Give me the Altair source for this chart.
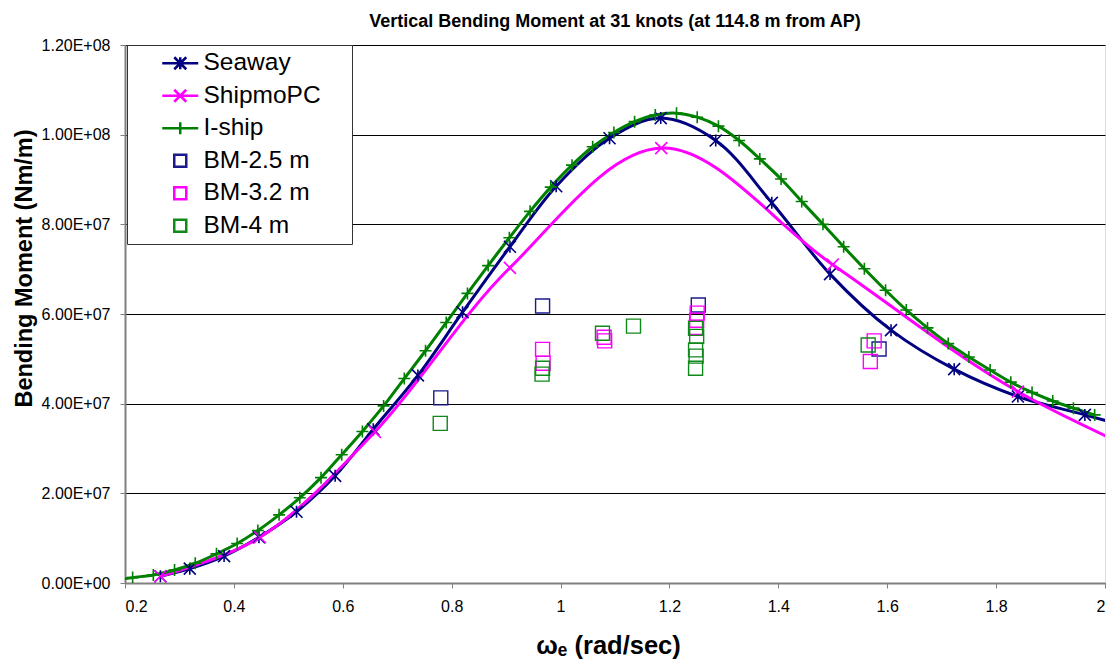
import altair as alt
import pandas as pd

SERIES = ["Seaway", "ShipmoPC", "I-ship", "BM-2.5 m", "BM-3.2 m", "BM-4 m"]
COLORS = ["#000080", "#FF00FF", "#008000", "#1A1A8C", "#FF00FF", "#11881A"]
CURVES = ["Seaway", "ShipmoPC", "I-ship"]
MARKER_PATHS = [
    "M-1,-1L1,1M-1,1L1,-1M0,-1L0,1",
    "M-1,-1L1,1M-1,1L1,-1",
    "M-1,0L1,0M0,-1L0,1",
]
LEGEND_PATHS = [
    "M-3,0L3,0M-1,-1L1,1M-1,1L1,-1M0,-1L0,1",
    "M-3,0L3,0M-1,-1L1,1M-1,1L1,-1",
    "M-3,0L3,0M0,-1L0,1",
    "square", "square", "square",
]
LEGEND_SIZES = [144, 144, 144, 210, 210, 210]
LEGEND_WIDTHS = [2.5, 2.5, 2.5, 1.4, 1.4, 1.4]

# values in millions of Nm/m
seaway_w = [0.265, 0.319, 0.382, 0.446, 0.515, 0.586, 0.656, 0.738, 0.820, 0.907, 0.992,
            1.090, 1.184, 1.285, 1.388, 1.495, 1.607, 1.723, 1.840, 1.963, 2.090]
seaway_v = [1.5, 3.2, 6.0, 10.2, 15.9, 23.9, 34.3, 46.3, 60.4, 75.0, 88.5,
            99.2, 103.7, 98.7, 84.8, 68.9, 56.4, 47.7, 41.6, 37.5, 33.3]

shipmo_w = [0.265, 0.448, 0.659, 0.907, 1.185, 1.500, 1.840, 2.210]
shipmo_v = [1.5, 10.2, 33.7, 70.3, 97.0, 71.0, 42.7, 21.5]

iship_w = [0.176, 0.214, 0.252, 0.291, 0.329, 0.368, 0.406, 0.444, 0.483, 0.521, 0.560,
           0.598, 0.636, 0.675, 0.713, 0.752, 0.790, 0.829, 0.867, 0.906, 0.944, 0.982,
           1.021, 1.059, 1.098, 1.136, 1.174, 1.213, 1.251, 1.290, 1.328, 1.366, 1.405,
           1.443, 1.482, 1.520, 1.558, 1.597, 1.635, 1.674, 1.712, 1.750, 1.789, 1.827,
           1.866, 1.904, 1.942, 1.981]
iship_v = [0.5, 1.2, 1.8, 2.9, 4.4, 6.5, 8.8, 11.7, 15.2, 19.0, 23.5,
           28.6, 33.8, 39.5, 45.6, 51.8, 58.1, 64.6, 70.8, 77.0, 82.9, 88.3,
           93.2, 97.3, 100.5, 102.9, 104.4, 104.8, 103.9, 101.9, 98.7, 94.6, 90.1,
           85.1, 80.0, 75.0, 70.1, 65.3, 60.9, 56.9, 53.4, 50.4, 47.5, 44.8,
           42.5, 40.6, 39.0, 37.5]

bm25_w = [0.780, 0.967, 1.253, 1.585]
bm25_v = [41.3, 61.8, 62.0, 52.2]

bm32_w = [0.967, 0.968, 1.080, 1.081, 1.251, 1.250, 1.249, 1.576, 1.569]
bm32_v = [52.1, 49.0, 54.8, 54.0, 60.2, 58.6, 57.0, 54.0, 49.4]

bm4_w = [0.779, 0.967, 0.966, 1.077, 1.134, 1.248, 1.250, 1.248, 1.249, 1.248, 1.565]
bm4_v = [35.6, 47.9, 46.6, 55.7, 57.3, 56.8, 55.0, 52.0, 50.6, 47.9, 53.1]

x_ticks = [0.2, 0.4, 0.6, 0.8, 1.0, 1.2, 1.4, 1.6, 1.8, 2.0]
y_ticks = [0, 2e7, 4e7, 6e7, 8e7, 1e8, 1.2e8]


def frame(name, ws, vs):
    return pd.DataFrame({"series": name, "w": ws, "v": [v * 1e6 for v in vs]})


curves = pd.concat([frame("Seaway", seaway_w, seaway_v),
                    frame("ShipmoPC", shipmo_w, shipmo_v),
                    frame("I-ship", iship_w, iship_v)], ignore_index=True)
squares = pd.concat([frame("BM-2.5 m", bm25_w, bm25_v),
                     frame("BM-3.2 m", bm32_w, bm32_v),
                     frame("BM-4 m", bm4_w, bm4_v)], ignore_index=True)

FONT = "Liberation Sans"

exp_expr = "floor(log(datum.value) / LN10 + 1e-9)"
y_label_expr = (
    "datum.value == 0 ? '0.00E+00' : format(datum.value / pow(10, " + exp_expr + "), '.2f') + 'E+' + ("
    + exp_expr + " < 10 ? '0' : '') + " + exp_expr
)

x_enc = alt.X(
    "w:Q",
    scale=alt.Scale(domain=[0.2, 2.0], nice=False, zero=False),
    axis=alt.Axis(
        values=x_ticks, format="~g", grid=False, tickSize=5, tickColor="#808080",
        domainColor="#808080", domainWidth=2, labelFontSize=16, labelFont=FONT,
        labelColor="black", labelPadding=10, title="ωₑ (rad/sec)", titleFont=FONT,
        titleFontSize=25.5, titleFontWeight="bold", titleColor="black",
        titleX=483, titleY=70, titleBaseline="alphabetic",
    ),
)
y_enc = alt.Y(
    "v:Q",
    scale=alt.Scale(domain=[0, 1.2e8], nice=False),
    axis=alt.Axis(
        values=y_ticks, labelExpr=y_label_expr, grid=True, gridColor="black", gridWidth=1,
        tickSize=5, tickColor="#808080", domainColor="#808080", domainWidth=2,
        labelFontSize=16, labelFont=FONT, labelColor="black", labelPadding=10,
        title="Bending Moment (Nm/m)", titleFont=FONT, titleFontSize=23.5,
        titleFontWeight="bold", titleColor="black", titleX=-89, titleY=223,
    ),
)

lines = alt.Chart(curves).mark_line(
    interpolate="catmull-rom", strokeWidth=3, clip=True
).encode(
    x=x_enc, y=y_enc,
    stroke=alt.Stroke("series:N", scale=alt.Scale(domain=SERIES, range=COLORS), legend=None),
    detail="series:N",
)

markers = alt.Chart(curves).mark_point(
    filled=False, size=144, strokeWidth=1.6, opacity=1, clip=True
).encode(
    x=x_enc, y=y_enc,
    color=alt.Color("series:N", scale=alt.Scale(domain=SERIES, range=COLORS), legend=None),
    shape=alt.Shape("series:N", scale=alt.Scale(domain=CURVES, range=MARKER_PATHS), legend=None),
)

boxes = alt.Chart(squares).mark_point(
    shape="square", filled=False, size=196, strokeWidth=1.4, opacity=1, clip=True
).encode(
    x=x_enc, y=y_enc,
    color=alt.Color("series:N", scale=alt.Scale(domain=SERIES, range=COLORS), legend=None),
)

legend = alt.Legend(
    title=None, orient="none", legendX=2, legendY=0,
    labelFont=FONT, labelFontSize=24.5, labelColor="black",
    labelExpr="datum.label + '\u00a0\u2800'",
    strokeColor="#333333", fillColor="white", padding=6,
    rowPadding=7.5, symbolOffset=35, labelOffset=11,
)
legend_layer = alt.Chart(squares).transform_filter("datum.w > 100").mark_point(
    filled=False, opacity=1
).encode(
    x=x_enc, y=y_enc,
    color=alt.Color("series:N", scale=alt.Scale(domain=SERIES, range=COLORS), legend=legend),
    shape=alt.Shape("series:N", scale=alt.Scale(domain=SERIES, range=LEGEND_PATHS), legend=legend),
    size=alt.Size("series:N", scale=alt.Scale(domain=SERIES, range=LEGEND_SIZES), legend=legend),
    strokeWidth=alt.StrokeWidth("series:N", scale=alt.Scale(domain=SERIES, range=LEGEND_WIDTHS), legend=legend),
)

chart = alt.layer(lines, markers, boxes, legend_layer).resolve_scale(
    color="independent", shape="independent", size="independent", strokeWidth="independent"
).properties(
    width=980, height=538,
    title=alt.TitleParams(
        "Vertical Bending Moment at 31 knots (at 114.8 m from AP)",
        font=FONT, fontSize=18, fontWeight="bold", color="black",
        anchor="middle", offset=6,
    ),
    autosize=alt.AutoSizeParams(type="none"),
    padding={"left": 125, "top": 45, "right": 12, "bottom": 80},
).configure_view(stroke="#808080", strokeWidth=2).configure(background="white")

chart.save("out.html", embed_options={"renderer": "svg", "actions": False})
